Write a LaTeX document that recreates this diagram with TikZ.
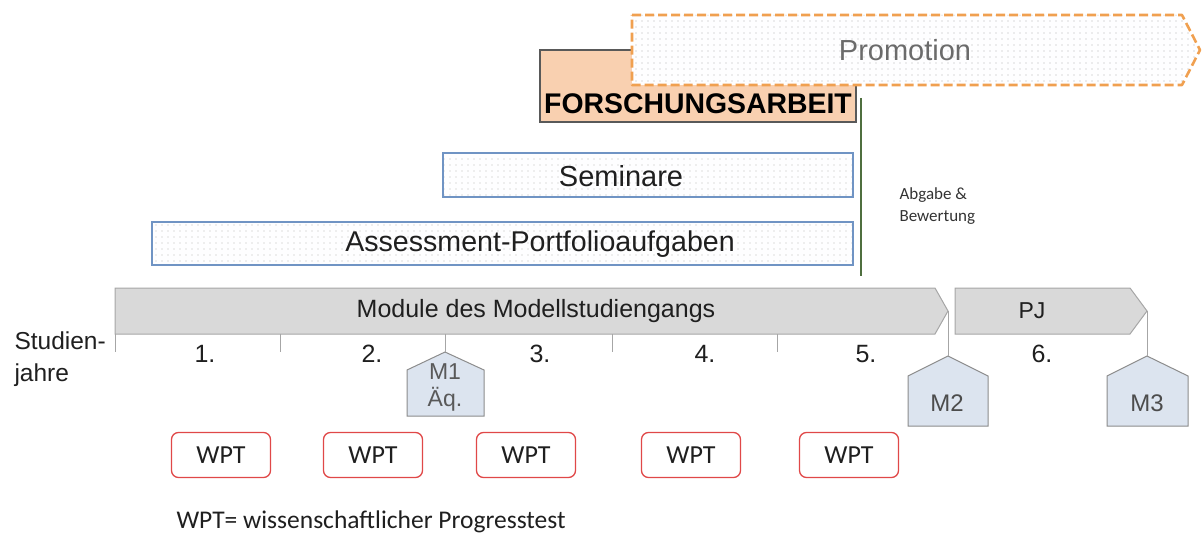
\documentclass[tikz,border=0pt]{standalone}
\usepackage{fontspec}
\setmainfont{Liberation Sans}
\newfontfamily\carlitofont{Carlito}
\usetikzlibrary{patterns.meta}
\definecolor{modfill}{HTML}{D9D9D9}
\definecolor{modline}{HTML}{A6A6A6}
\definecolor{promoline}{HTML}{F0A050}
\definecolor{peach}{HTML}{F9D0B0}
\definecolor{blueline}{HTML}{7094C4}
\definecolor{penfill}{HTML}{DCE4EF}
\definecolor{penline}{HTML}{8C8C8C}
\definecolor{wptred}{HTML}{E04848}
\definecolor{darkgreen}{HTML}{4F6F3F}
\tikzdeclarepattern{
  name=sparsedots,
  type=uncolored,
  bounding box={(-3pt,-3pt) and (3pt,3pt)},
  tile size={(6pt,6pt)},
  code={\fill (0,0) circle (0.65pt);}
}
\tikzset{
  dotbox/.style={draw=blueline, line width=1.2pt, preaction={fill=white!94!blue!4}, pattern=sparsedots, pattern color=gray!55},
  modarrow/.style={draw=modline, line width=1pt, fill=modfill},
  house/.style={draw=penline, line width=1pt, fill=penfill},
  tick/.style={draw=modline, line width=1pt},
  wpt/.style={draw=wptred, line width=1.3pt, rounded corners=7pt, minimum width=99pt, minimum height=45pt, inner sep=0pt, font=\carlitofont\fontsize{26}{28}\selectfont, text=black!88},
  big/.style={font=\fontsize{29}{32}\selectfont, text=black!88},
  mid/.style={font=\fontsize{25}{28}\selectfont, text=black!88},
}
\begin{document}
\begin{tikzpicture}[x=1pt,y=-1pt]
\useasboundingbox (0,0) rectangle (1204,537);
% Forschungsarbeit
\draw[draw=black!65, line width=1.2pt, fill=peach] (540,50) rectangle (856,122);
\node[font=\bfseries\fontsize{28.4}{32}\selectfont, text=black] (fa) at (698,104) {FORSCHUNGSARBEIT};
% Promotion
\path[preaction={fill=white!95!blue!4}, pattern=sparsedots, pattern color=gray!60]
  (632,15) -- (1182,15) -- (1200,50) -- (1182,85) -- (632,85) -- cycle;
\draw[promoline, line width=2.6pt, dash pattern=on 9pt off 4pt, line join=round]
  (632,15) -- (1182,15) -- (1200,50) -- (1182,85) -- (632,85) -- cycle;
\node[font=\fontsize{29}{32}\selectfont, text=black!58] (promo) at (905,50) {Promotion};
% green line
\coordinate (gtop) at (861,98);
\coordinate (gbot) at (861,276);
\draw[darkgreen, line width=1.8pt] (gtop) -- (gbot);
\node[font=\carlitofont\fontsize{17}{22}\selectfont, text=black!80, align=left, anchor=west] (abg) at (896,206) {Abgabe \&\\Bewertung};
% Seminare / Assessment
\path[dotbox] (443,153) rectangle (853,197);
\node[big] (sem) at (621,176) {Seminare};
\path[dotbox] (152,222) rectangle (853,265);
\node[big, font=\fontsize{28.6}{32}\selectfont] (ass) at (540,244) {Assessment-Portfolioaufgaben};
% Module arrow
\path[modarrow] (115,288) -- (935,288) -- (948,311) -- (935,334) -- (115,334) -- cycle;
\coordinate (modtip) at (948,311);
\node[font=\fontsize{25}{28}\selectfont, text=black!88] (mod) at (536,311) {Module des Modellstudiengangs};
\path[modarrow] (955,288) -- (1130,288) -- (1147,311) -- (1130,334) -- (955,334) -- cycle;
\coordinate (pjtip) at (1147,311);
\node[mid, font=\fontsize{23}{26}\selectfont] (pj) at (1032,311) {PJ};
% ticks
\foreach \x/\n in {115/t0,280/t1,612/t3,777/t4}{
  \coordinate (\n a) at (\x,334);
  \coordinate (\n b) at (\x,352);
  \draw[tick] (\n a) -- (\n b);
}
\coordinate (m1top) at (445,334);
% year labels
\foreach \x/\t in {205/1.,372/2.,540/3.,705/4.,866/5.,1042/6.}{
  \node[mid] (y\x) at (\x,354) {\t};
}
\node[mid, align=left, anchor=west, font=\fontsize{24.5}{32}\selectfont] (stj) at (11,359) {Studien-\\jahre};
% houses
\path[house] (445,352) -- (484,370) -- (484,416) -- (407,416) -- (407,370) -- cycle;
\coordinate (m1apex) at (445,352);
\draw[tick] (m1top) -- (m1apex);
\node[font=\fontsize{23}{27}\selectfont, text=black!65, align=center] (m1) at (445,387) {M1\\Äq.};
\path[house] (948,356) -- (988,376) -- (988,426) -- (908,426) -- (908,376) -- cycle;
\coordinate (m2apex) at (948,356);
\draw[tick] (modtip) -- (m2apex);
\node[font=\fontsize{24}{26}\selectfont, text=black!70] (m2) at (947,403) {M2};
\path[house] (1147,356) -- (1188,376) -- (1188,426) -- (1107,426) -- (1107,376) -- cycle;
\coordinate (m3apex) at (1147,356);
\draw[tick] (pjtip) -- (m3apex);
\node[font=\fontsize{24}{26}\selectfont, text=black!70] (m3) at (1147,403) {M3};
% WPT
\node[wpt] (w1) at (221,455) {WPT};
\node[wpt] (w2) at (373,455) {WPT};
\node[wpt] (w3) at (526,455) {WPT};
\node[wpt] (w4) at (691,455) {WPT};
\node[wpt] (w5) at (849,455) {WPT};
\node[font=\carlitofont\fontsize{25.5}{28}\selectfont, text=black!88, anchor=west] (leg) at (173,522) {WPT= wissenschaftlicher Progresstest};
\end{tikzpicture}
\end{document}
